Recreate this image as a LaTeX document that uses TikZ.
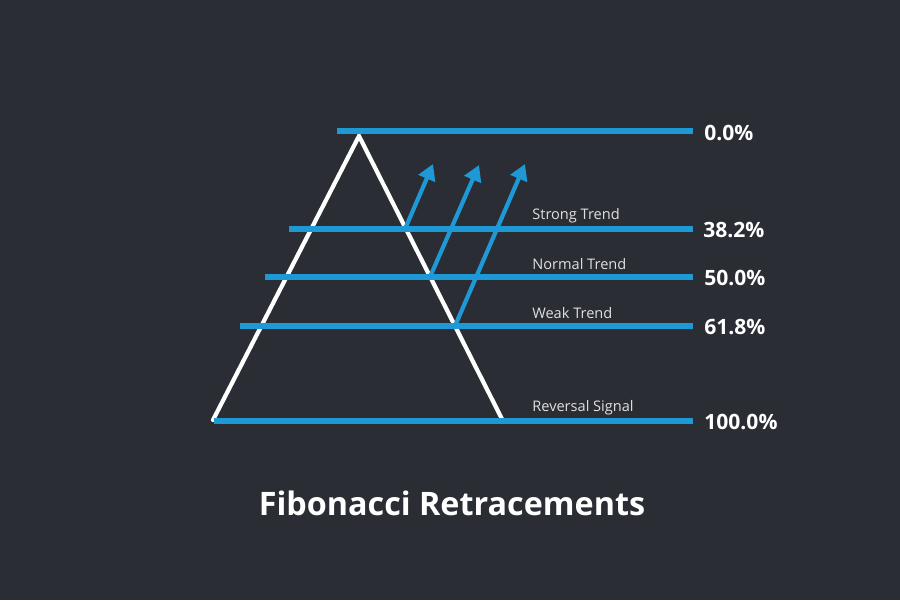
\documentclass[tikz,border=0pt]{standalone}
\usepackage{fontspec}
\setmainfont{Open Sans}
\usepackage{tikz}
\usetikzlibrary{arrows.meta}
\definecolor{bgdark}{rgb}{0.165,0.176,0.204}
\definecolor{fibblue}{rgb}{0.12,0.6,0.84}
\definecolor{lbgray}{rgb}{0.88,0.88,0.88}
\tikzset{
  level/.style={fibblue,line width=3pt,line cap=butt},
  trend/.style={fibblue,line width=2.4pt,->},
  pct/.style={anchor=west,inner sep=0pt,text=white,font=\bfseries\fontsize{12}{14}\selectfont},
  tag/.style={anchor=west,inner sep=0pt,text=lbgray,font=\fontsize{8.3}{10}\selectfont}
}
\begin{document}
\begin{tikzpicture}[line cap=round,line join=round,>={Triangle[width=10pt,length=9pt]},x=0.02cm,y=-0.02cm]
\fill[bgdark] (0,0) rectangle (900,600);
\useasboundingbox (0,0) rectangle (900,600);
% triangle
\coordinate (apex) at (359,136);
\coordinate (baseL) at (213,420);
\coordinate (baseR) at (502,419);
\draw [white,line width=2.4pt,line join=miter] (baseL) -- (apex) -- (baseR);
% levels
\coordinate (l0a) at (337,131);
\coordinate (l0b) at (693,131);
\coordinate (l382a) at (289,229);
\coordinate (l382b) at (693,229);
\coordinate (l500a) at (265,277);
\coordinate (l500b) at (693,277);
\coordinate (l618a) at (240,326);
\coordinate (l618b) at (693,326);
\coordinate (l100a) at (214,421);
\coordinate (l100b) at (693,421);
\draw [level] (l0a) -- (l0b);
\draw [level] (l382a) -- (l382b);
\draw [level] (l500a) -- (l500b);
\draw [level] (l618a) -- (l618b);
\draw [level] (l100a) -- (l100b);
% trend arrows
\coordinate (s1) at (405,229);
\coordinate (t1) at (433,164);
\coordinate (s2) at (430,277);
\coordinate (t2) at (479,165);
\coordinate (s3) at (455,326);
\coordinate (t3) at (525,164);
\draw [trend] (s1) -- (t1);
\draw [trend] (s2) -- (t2);
\draw [trend] (s3) -- (t3);
% labels
\node [pct] (p0) at (704,133) {0.0\%};
\node [pct] (p382) at (703,230) {38.2\%};
\node [pct] (p500) at (704,278) {50.0\%};
\node [pct] (p618) at (704,327) {61.8\%};
\node [pct] (p100) at (704,422) {100.0\%};
\node [tag] (strong) at (532,216) {Strong Trend};
\node [tag] (normal) at (532,264) {Normal Trend};
\node [tag] (weak) at (532,313) {Weak Trend};
\node [tag] (reversal) at (532,408) {Reversal Signal};
\node [text=white,font=\bfseries\fontsize{18.4}{22}\selectfont] (title) at (452,503) {Fibonacci Retracements};
\end{tikzpicture}
\end{document}
